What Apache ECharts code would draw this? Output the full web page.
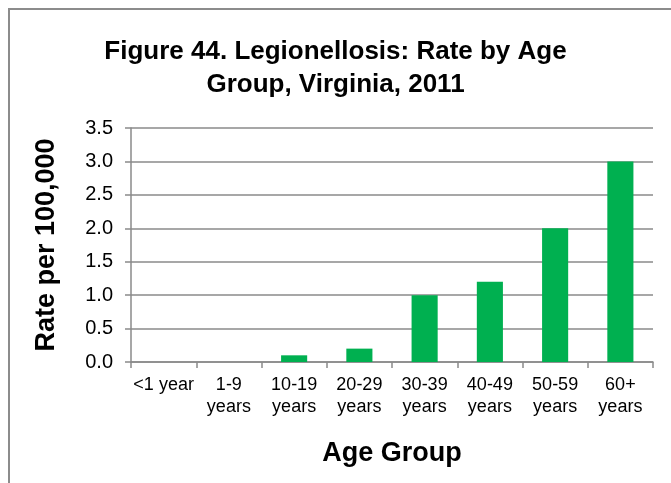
<!DOCTYPE html>
<html>
<head>
<meta charset="utf-8">
<script src="https://cdn.jsdelivr.net/npm/echarts@6/dist/echarts.min.js"></script>
<style>
  html, body { margin: 0; padding: 0; background: #fff; }
  #chart { width: 671px; height: 483px; }
</style>
</head>
<body>
<div id="chart"></div>
<script>
// Legionellosis rate per 100,000 by age group, Virginia 2011
const ageGroups = ['<1 year', '1-9\nyears', '10-19\nyears', '20-29\nyears', '30-39\nyears', '40-49\nyears', '50-59\nyears', '60+\nyears'];
const rates = [0, 0, 0.1, 0.2, 1.0, 1.2, 2.0, 3.0];

const FONT = '"Liberation Sans", Arial, sans-serif';
const GRID_GRAY = '#8a8a8a';

const chart = echarts.init(document.getElementById('chart'), null, { renderer: 'canvas' });

chart.setOption({
  animation: false,
  backgroundColor: '#fff',
  graphic: [{
    type: 'rect',
    shape: { x: 9, y: 9, width: 700, height: 520 },
    style: { fill: 'none', stroke: '#8c8c8c', lineWidth: 2 },
    silent: true
  }],
  title: {
    text: 'Figure 44. Legionellosis: Rate by Age\nGroup, Virginia, 2011',
    left: 'center',
    top: 30,
    textStyle: {
      fontFamily: FONT,
      fontWeight: 'bold',
      fontSize: 26,
      lineHeight: 33,
      color: '#000'
    }
  },
  grid: { left: 131, right: 18, top: 128, bottom: 121, containLabel: false },
  xAxis: {
    type: 'category',
    data: ageGroups,
    name: 'Age Group',
    nameLocation: 'middle',
    nameGap: 78,
    nameTextStyle: { fontFamily: FONT, fontWeight: 'bold', fontSize: 27, color: '#000' },
    axisLine: { lineStyle: { color: GRID_GRAY, width: 1.5 } },
    axisTick: { show: true, length: 6, lineStyle: { color: GRID_GRAY, width: 1.5 } },
    axisLabel: {
      fontFamily: FONT, fontSize: 18, color: '#000', lineHeight: 22, margin: 12, interval: 0
    }
  },
  yAxis: {
    type: 'value',
    min: 0,
    max: 3.5,
    interval: 0.5,
    name: 'Rate per 100,000',
    nameLocation: 'middle',
    nameGap: 71,
    nameRotate: 90,
    nameTextStyle: { fontFamily: FONT, fontWeight: 'bold', fontSize: 27, color: '#000' },
    axisLine: { show: true, lineStyle: { color: GRID_GRAY, width: 1.5 } },
    axisTick: { show: true, length: 6, lineStyle: { color: GRID_GRAY, width: 1.5 } },
    splitLine: { lineStyle: { color: GRID_GRAY, width: 1.5 } },
    axisLabel: {
      fontFamily: FONT, fontSize: 20, color: '#000', margin: 18,
      formatter: v => v.toFixed(1)
    }
  },
  series: [{
    type: 'bar',
    data: rates,
    barWidth: '40%',
    itemStyle: { color: '#00B050' }
  }]
});
</script>
</body>
</html>
